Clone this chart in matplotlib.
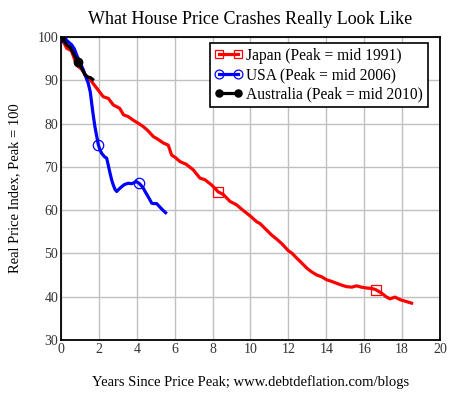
import matplotlib
matplotlib.use('Agg')
import matplotlib.pyplot as plt

# Japan (quarterly-ish)
japan_x = [0, 0.3, 0.55, 0.83, 1.1, 1.36, 1.6, 1.88, 2.23, 2.5, 2.76, 3.1, 3.3, 3.55, 3.8, 4.1,
           4.34, 4.6, 4.87, 5.1, 5.4, 5.66, 5.84, 6.05, 6.28, 6.6, 6.98, 7.33, 7.6, 7.95, 8.3,
           8.57, 8.92, 9.27, 9.62, 9.97, 10.33, 10.5, 10.85, 11.1, 11.38, 11.64, 12.0, 12.2,
           12.44, 12.7, 12.97, 13.2, 13.5, 13.75, 14.02, 14.3, 14.6, 14.85, 15.08, 15.35, 15.6,
           15.85, 16.13, 16.4, 16.62, 16.92, 17.15, 17.36, 17.63, 17.9, 18.2, 18.5]
japan_y = [100, 97.4, 96.8, 93.5, 92.5, 90.8, 89.8, 88.2, 86.2, 85.8, 84.3, 83.5, 82, 81.6, 80.8, 80.0,
           79.3, 78.3, 77, 76.4, 75.5, 75, 72.7, 72.1, 71.2, 70.6, 69.3, 67.4, 67.0, 65.8, 64.2,
           63.6, 62.0, 61.2, 59.9, 58.7, 57.3, 56.9, 55.4, 54.3, 53.3, 52.3, 50.6, 50.0,
           48.9, 47.8, 46.6, 45.8, 45.0, 44.6, 43.9, 43.5, 43.0, 42.6, 42.3, 42.2, 42.5,
           42.2, 42.0, 41.9, 41.6, 40.8, 40.0, 39.5, 39.9, 39.3, 38.9, 38.5]

# USA
usa_x = [0, 0.15, 0.3, 0.56, 0.7, 0.83, 1.0, 1.18, 1.3, 1.44, 1.55, 1.62, 1.7, 1.79, 1.88, 1.97,
         2.05, 2.15, 2.3, 2.41, 2.5, 2.59, 2.68, 2.76, 2.85, 2.94, 3.05, 3.2, 3.35, 3.55, 3.73,
         3.85, 3.96, 4.12, 4.25, 4.34, 4.45, 4.6, 4.79, 4.9, 5.05, 5.2, 5.35, 5.52]
usa_y = [100, 99.8, 99.2, 98.2, 97.3, 95.8, 94.2, 92.4, 90.9, 89.3, 87.2, 84.7, 82.0, 79.3, 77.2, 75.1,
         74.0, 73.1, 72.3, 72.0, 70.3, 68.5, 66.9, 65.8, 64.8, 64.3, 64.8, 65.4, 65.9, 66.2, 66.1,
         66.3, 66.6, 66.2, 65.6, 65.1, 64.2, 63.1, 61.6, 61.5, 61.5, 60.8, 60.1, 59.4]

# Australia
aus_x = [0, 0.1, 0.3, 0.5, 0.65, 0.8, 0.91, 1.09, 1.27, 1.44, 1.56, 1.67]
aus_y = [100, 99.6, 98.2, 97.5, 96.2, 95.0, 94.1, 92.8, 91.2, 90.7, 90.6, 90.2]

plt.rcParams['font.family'] = ['Liberation Serif', 'DejaVu Serif']

fig = plt.figure(figsize=(4.55, 3.93), dpi=100)
ax = fig.add_axes([0.134, 0.135, 0.833, 0.771])

ax.plot(japan_x, japan_y, color='#ff0000', lw=2.3, marker='s', markersize=7.5,
        markerfacecolor='none', markeredgewidth=0.9, markevery=[0, 30, 60],
        label='Japan (Peak = mid 1991)', zorder=3)
ax.plot(usa_x, usa_y, color='#0000ff', lw=2.3, marker='o', markersize=7.5,
        markerfacecolor='none', markeredgewidth=0.9, markevery=[0, 15, 33],
        label='USA (Peak = mid 2006)', zorder=4)
ax.plot(aus_x, aus_y, color='black', lw=2.3, marker='o', markersize=6,
        markevery=[0, 6], label='Australia (Peak = mid 2010)', zorder=5)

ax.set_xlim(0, 20)
ax.set_ylim(30, 100)
ax.set_xticks(range(0, 21, 2))
ax.set_yticks(range(30, 101, 10))
ax.grid(True, color='#c0c0c0', lw=1.0)
ax.set_axisbelow(True)
ax.tick_params(length=0, labelsize=10, pad=2, colors='#333333')
for s in ax.spines.values():
    s.set_linewidth(1.3)
    s.set_color('black')

ax.set_title('What House Price Crashes Really Look Like', fontsize=13, pad=9)
ax.set_xlabel('Years Since Price Peak; www.debtdeflation.com/blogs', fontsize=10.5, labelpad=14)
ax.set_ylabel('Real Price Index, Peak = 100', fontsize=10.5, labelpad=12)

leg = ax.legend(loc='upper right', bbox_to_anchor=(0.98, 0.995), numpoints=2, fontsize=11.2,
                frameon=True, fancybox=False, edgecolor='black', framealpha=1,
                borderpad=0.3, handlelength=1.8, handletextpad=0.25, labelspacing=0.22,
                borderaxespad=0.3, markerscale=0.85)
leg.get_frame().set_linewidth(1.2)

fig.savefig('out.png', dpi=100)
